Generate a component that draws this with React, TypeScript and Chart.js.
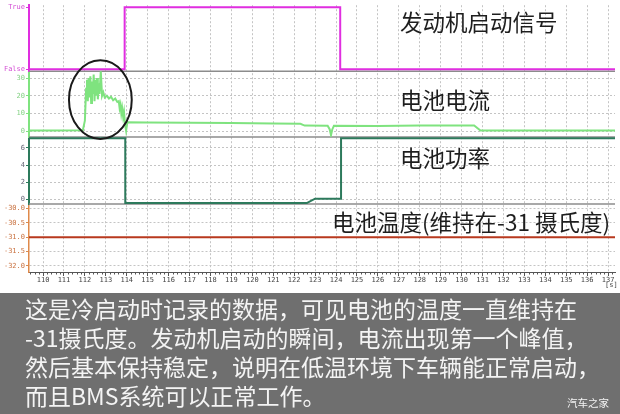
import { useEffect, useRef } from "react";
import { Chart, registerables } from "chart.js";

Chart.register(...registerables);

// ---- data ----
const timeRange = [109.33, 137.33];
const timeTicks = [
  110, 111, 112, 113, 114, 115, 116, 117, 118, 119, 120, 121, 122, 123,
  124, 125, 126, 127, 128, 129, 130, 131, 132, 133, 134, 135, 136, 137,
];

const signalLabels = ["False", "True"];
const signalTimes = [109.33, 113.9, 113.9, 124.2, 124.2, 137.33];
const signalValues = [0, 0, 1, 1, 0, 0];

const currentTicks = [0, 10, 20, 30];
const currentTimes = [
  109.33, 110.5, 111.9, 112.0, 112.06, 112.1, 112.14, 112.18, 112.22, 112.26,
  112.3, 112.34, 112.38, 112.42, 112.46, 112.5, 112.54, 112.58, 112.62, 112.66,
  112.7, 112.76, 112.82, 112.88, 112.95, 113.05, 113.15, 113.25, 113.35, 113.45,
  113.55, 113.62, 113.66, 113.7, 113.74, 113.78, 113.83, 113.87, 113.92, 113.97,
  114.03, 115, 117, 119, 121, 122.3, 122.5, 123.6, 123.7, 123.76,
  123.82, 123.9, 126, 128, 130.6, 130.9, 137.33,
];
const currentValues = [
  0.4, 0.4, 0.5, 6, 24, 29, 17, 30, 19, 31,
  16, 28, 21, 32, 17, 29, 20, 30, 18, 27,
  21, 34, 20, 22, 19, 20, 18.5, 19.5, 17.5, 18.5,
  16.5, 17, 13, 15, 10, 13, 8, 11, 4, 0.3,
  5, 4.9, 4.8, 4.6, 4.4, 4.2, 3.2, 3.1, 1.0, -2.2,
  1.0, 3.1, 3.0, 3.3, 3.3, 0.4, 0.4,
];

const powerTicks = [0, 2, 4, 6];
const powerTimes = [109.33, 113.93, 113.93, 122.6, 123.0, 124.24, 124.24, 137.33];
const powerValues = [7.15, 7.15, -0.46, -0.46, 0.05, 0.05, 7.15, 7.15];

const tempTicks = [-30.0, -30.5, -31.0, -31.5, -32.0];
const tempTimes = [109.33, 137.33];
const tempValues = [-31.0, -31.0];

// highlight ellipse around the current peak (centre time, centre current, half-width s, half-height A)
const peakHighlight = { t: 112.74, a: 17.8, dt: 1.5, da: 22.2 };

const panelTitles = ["发动机启动信号", "电池电流", "电池功率", "电池温度(维持在-31 摄氏度)"];
const captionLines = [
  "这是冷启动时记录的数据，可见电池的温度一直维持在",
  "-31摄氏度。发动机启动的瞬间，电流出现第一个峰值，",
  "然后基本保持稳定，说明在低温环境下车辆能正常启动，",
  "而且BMS系统可以正常工作。",
];
const watermark = "汽车之家";
const timeUnit = "[s]";

const toPoints = (xs: number[], ys: number[]) => xs.map((x, i) => ({ x, y: ys[i] }));

const tickFont = { family: "'DejaVu Sans Mono', monospace", size: 7 };
const gridColor = "#c4c4c4";
const gridDash = [2, 2];

function yAxis(opts: any) {
  return {
    type: "linear",
    position: "left",
    stack: "panels",
    offset: false,
    afterFit: (s: any) => {
      s.width = 29;
    },
    ...opts,
  };
}

const separatorPlugin = {
  id: "separators",
  beforeDatasetsDraw(chart: any) {
    const { ctx, chartArea } = chart;
    ctx.save();
    ctx.strokeStyle = "#8c8c8c";
    ctx.lineWidth = 1.5;
    ["ySig", "yCur", "yPow"].forEach((id) => {
      const s = chart.scales[id];
      ctx.beginPath();
      ctx.moveTo(chartArea.left, s.bottom);
      ctx.lineTo(chartArea.right, s.bottom);
      ctx.stroke();
    });
    ctx.restore();
  },
};

const ellipsePlugin = {
  id: "peakEllipse",
  afterDatasetsDraw(chart: any) {
    const { ctx } = chart;
    const xs = chart.scales.x;
    const ys = chart.scales.yCur;
    const cx = xs.getPixelForValue(peakHighlight.t);
    const cy = ys.getPixelForValue(peakHighlight.a);
    const rx = Math.abs(xs.getPixelForValue(peakHighlight.t + peakHighlight.dt) - cx);
    const ry = Math.abs(ys.getPixelForValue(peakHighlight.a + peakHighlight.da) - cy);
    ctx.save();
    ctx.strokeStyle = "#1a1a1a";
    ctx.lineWidth = 2;
    ctx.beginPath();
    ctx.ellipse(cx, cy, rx, ry, 0, 0, Math.PI * 2);
    ctx.stroke();
    ctx.restore();
  },
};

const minorTickPlugin = {
  id: "minorTicks",
  afterDraw(chart: any) {
    const { ctx, chartArea } = chart;
    const xs = chart.scales.x;
    ctx.save();
    ctx.strokeStyle = "#555";
    ctx.lineWidth = 1;
    const from = Math.ceil(xs.min * 5);
    const to = Math.floor(xs.max * 5);
    for (let i = from; i <= to; i++) {
      if (i % 5 === 0) continue;
      const px = Math.round(xs.getPixelForValue(i / 5)) + 0.5;
      ctx.beginPath();
      ctx.moveTo(px, chartArea.bottom);
      ctx.lineTo(px, chartArea.bottom + 2.5);
      ctx.stroke();
    }
    ctx.restore();
  },
};

export default function App() {
  const canvasRef = useRef<HTMLCanvasElement | null>(null);

  useEffect(() => {
    document.body.style.margin = "0";
    const canvas = canvasRef.current;
    if (!canvas) return;
    const chart = new Chart(canvas, {
      type: "line",
      data: {
        datasets: [
          {
            data: toPoints(signalTimes, signalValues),
            yAxisID: "ySig",
            borderColor: "#e02ee0",
            borderWidth: 2,
            pointRadius: 0,
          },
          {
            data: toPoints(currentTimes, currentValues),
            yAxisID: "yCur",
            borderColor: "#7fe37f",
            borderWidth: 2,
            pointRadius: 0,
          },
          {
            data: toPoints(powerTimes, powerValues),
            yAxisID: "yPow",
            borderColor: "#2d7a5c",
            borderWidth: 2,
            pointRadius: 0,
          },
          {
            data: toPoints(tempTimes, tempValues),
            yAxisID: "yTmp",
            borderColor: "#b8391e",
            borderWidth: 2,
            pointRadius: 0,
          },
        ],
      } as any,
      options: {
        animation: false,
        responsive: false,
        maintainAspectRatio: false,
        layout: { padding: { top: 1, right: 5, left: 0, bottom: 0 } },
        plugins: { legend: { display: false }, tooltip: { enabled: false } },
        scales: {
          x: {
            type: "linear",
            min: timeRange[0],
            max: timeRange[1],
            afterFit: (s: any) => {
              s.height = 21;
            },
            afterBuildTicks: (s: any) => {
              s.ticks = timeTicks.map((value) => ({ value }));
            },
            ticks: {
              autoSkip: false,
              maxRotation: 0,
              padding: 0,
              font: tickFont,
              color: "#444",
              callback: (v: any) => String(v),
            },
            grid: {
              color: gridColor,
              tickColor: "#555",
              tickLength: 4,
              tickBorderDash: [],
            },
            border: { color: "#555", width: 1, dash: gridDash },
          },
          yTmp: yAxis({
            stackWeight: 69,
            weight: 1,
            min: -32.21,
            max: -29.84,
            afterBuildTicks: (s: any) => {
              s.ticks = tempTicks.map((value) => ({ value }));
            },
            ticks: {
              autoSkip: false,
              padding: 1,
              font: tickFont,
              color: "#c9713f",
              callback: (v: any) => Number(v).toFixed(1),
            },
            grid: { color: gridColor, tickColor: "#d98a50", tickLength: 3, tickBorderDash: [] },
            border: { color: "#e08a4a", width: 1.5, dash: gridDash },
          }),
          yPow: yAxis({
            stackWeight: 68,
            weight: 2,
            min: -0.577,
            max: 7.27,
            afterBuildTicks: (s: any) => {
              s.ticks = powerTicks.map((value) => ({ value }));
            },
            ticks: { autoSkip: false, padding: 1, font: tickFont, color: "#667" },
            grid: { color: gridColor, tickColor: "#2d7a5c", tickLength: 3, tickBorderDash: [] },
            border: { color: "#2d7a5c", width: 2, dash: gridDash },
          }),
          yCur: yAxis({
            stackWeight: 67,
            weight: 3,
            min: -3.33,
            max: 33.9,
            afterBuildTicks: (s: any) => {
              s.ticks = currentTicks.map((value) => ({ value }));
            },
            ticks: { autoSkip: false, padding: 1, font: tickFont, color: "#86d286" },
            grid: { color: gridColor, tickColor: "#7fe37f", tickLength: 3, tickBorderDash: [] },
            border: { color: "#7fe37f", width: 2, dash: gridDash },
          }),
          ySig: yAxis({
            stackWeight: 67,
            weight: 4,
            min: -0.032,
            max: 1.032,
            afterBuildTicks: (s: any) => {
              s.ticks = [0, 1].map((value) => ({ value }));
            },
            ticks: {
              autoSkip: false,
              padding: 1,
              font: tickFont,
              color: "#d44fd4",
              callback: (v: any) => signalLabels[Number(v)] ?? "",
            },
            grid: { drawOnChartArea: false, tickColor: "#e02ee0", tickLength: 3 },
            border: { color: "#e02ee0", width: 2 },
          }),
        },
      } as any,
      plugins: [separatorPlugin, ellipsePlugin, minorTickPlugin],
    });
    return () => chart.destroy();
  }, []);

  const titleStyle = (left: number, top: number): React.CSSProperties => ({
    position: "absolute",
    left,
    top,
    fontSize: 22.5,
    lineHeight: "23px",
    color: "#1e1e1e",
    whiteSpace: "nowrap",
  });

  return (
    <div
      style={{
        position: "fixed",
        left: 0,
        top: 0,
        width: 620,
        height: 414,
        overflow: "hidden",
        background: "#ffffff",
        fontFamily: "'Noto Sans CJK SC', 'Noto Sans', sans-serif",
      }}
    >
      <canvas
        ref={canvasRef}
        width={620}
        height={293}
        style={{ position: "absolute", left: 0, top: 0, width: 620, height: 293 }}
      />
      <div style={titleStyle(400, 10)}>{panelTitles[0]}</div>
      <div style={titleStyle(400, 88)}>{panelTitles[1]}</div>
      <div style={titleStyle(400, 146)}>{panelTitles[2]}</div>
      <div style={titleStyle(332, 210)}>{panelTitles[3]}</div>
      <div
        style={{
          position: "absolute",
          left: 605,
          top: 281,
          fontSize: 7,
          lineHeight: "8px",
          fontFamily: "'DejaVu Sans Mono', monospace",
          color: "#444",
        }}
      >
        {timeUnit}
      </div>
      <div
        style={{
          position: "absolute",
          left: 0,
          top: 293,
          width: 620,
          height: 121,
          background: "#6f6f6f",
        }}
      >
        <div
          style={{
            position: "absolute",
            left: 25,
            top: 1,
            fontSize: 23,
            lineHeight: "29px",
            color: "#f4f4f4",
            whiteSpace: "pre",
          }}
        >
          {captionLines.join("\n")}
        </div>
        <div
          style={{
            position: "absolute",
            left: 567,
            top: 104,
            fontSize: 10.5,
            lineHeight: "12px",
            color: "#f4f4f4",
            whiteSpace: "nowrap",
          }}
        >
          {watermark}
        </div>
      </div>
    </div>
  );
}
